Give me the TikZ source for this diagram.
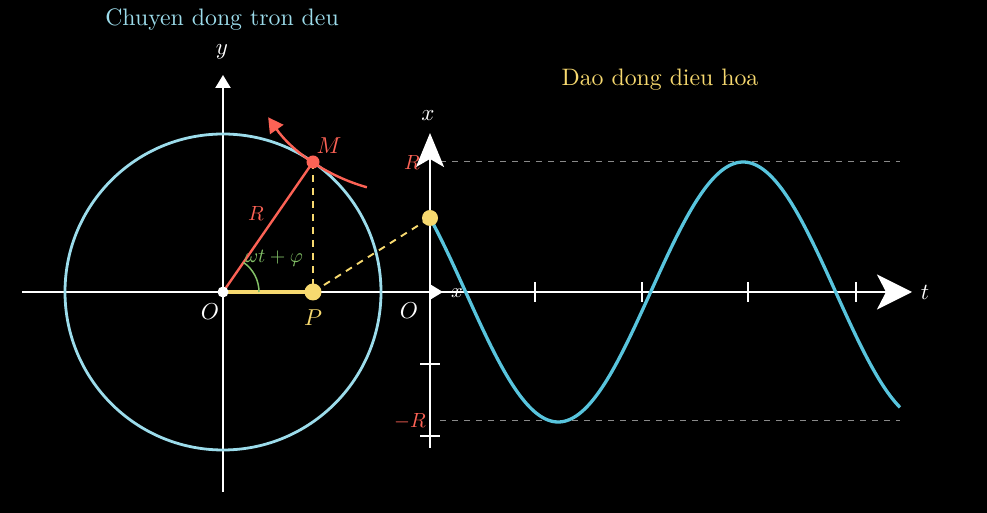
\documentclass[tikz,border=0pt]{standalone}
\usetikzlibrary{arrows.meta,calc}
\definecolor{circblue}{HTML}{9CDCEB}
\definecolor{curveblue}{HTML}{58C4DD}
\definecolor{mred}{HTML}{FC6255}
\definecolor{myellow}{HTML}{F7D96F}
\definecolor{mgreen}{HTML}{83C167}
\definecolor{dgray}{HTML}{8A8A8A}
\begin{document}
\begin{tikzpicture}[x=1pt,y=1pt,
  axisline/.style={white, line width=2.3pt},
  smalltip/.style={-{Triangle[length=13pt,width=15pt]}},
  bigtiph/.style={-{Stealth[length=35pt,width=35pt,inset=9pt]}},
  bigtipv/.style={-{Stealth[length=34pt,width=28pt,inset=8pt]}},
  tickline/.style={white, line width=2pt},
  guide/.style={dgray, line width=1pt, dash pattern=on 6pt off 6pt},
  ydash/.style={myellow, line width=1.9pt, dash pattern=on 7pt off 6pt},
  title/.style={scale=2.38},
  biglbl/.style={scale=2.3},
  midlbl/.style={scale=2.05},
  smalllbl/.style={scale=2.0}]
\fill[black] (0,0) rectangle (987,513);
\useasboundingbox (0,0) rectangle (987,513);

% key points
\coordinate (O1) at (223,221);
\coordinate (M) at (313,351);
\coordinate (P) at (313,221);
\coordinate (O2) at (430,221);
\coordinate (X0) at (430,295);
\coordinate (hxL) at (22,221);
\coordinate (hxR) at (443,221);
\coordinate (tR) at (912,221);
\coordinate (yB) at (223,21);
\coordinate (yT) at (223,438);
\coordinate (vB) at (430,65);
\coordinate (vT) at (430,380);

% titles
\node[title, text=circblue] (t1) at (222,493) {Chuyen dong tron deu};
\node[title, text=myellow] (t2) at (660,433) {Dao dong dieu hoa};

% guide lines
\draw[guide] (440,351) -- (900,351);
\draw[guide] (440,92) -- (900,92);

% axes
\draw[axisline, smalltip] (hxL) -- (hxR);
\draw[axisline, smalltip] (yB) -- (yT);
\draw[axisline, bigtiph] (O2) -- (tR);
\draw[axisline, bigtipv] (vB) -- (vT);

% ticks
\foreach \tx in {535,642,748,856} \draw[tickline] (\tx,211) -- (\tx,231);
\foreach \ty in {149,77} \draw[tickline] (420,\ty) -- (440,\ty);

% circle
\draw[circblue, line width=2.8pt] (O1) circle[radius=158pt];

% sine curve
\draw[curveblue, line width=3.3pt] plot[domain=430:900, samples=200, smooth] (\x, {221+130*cos((\x-430)/370*360+55.3)});

% radius and projections
\draw[mred, line width=2.4pt] (O1) -- (M);
\draw[ydash] (M) -- (P);
\draw[ydash] (P) -- (X0);
\draw[myellow, line width=4.2pt] (O1) -- (P);
\draw[mgreen, line width=1.5pt] ($(O1)+(36,0)$) arc[start angle=0, end angle=55.3, radius=36pt];

% velocity arrow
\draw[mred, line width=2.4pt, -{Triangle[length=15pt,width=16pt]}] (366.9,325.7) arc[start angle=254.3, end angle=215, radius=180pt];

% dots
\fill[myellow] (P) circle[radius=8.5pt];
\fill[myellow] (X0) circle[radius=8pt];
\fill[white] (O1) circle[radius=5.5pt];
\fill[mred] (M) circle[radius=6.5pt];

% labels
\node[biglbl, text=white] (ly) at (222,461) {$y$};
\node[biglbl, text=mred] (lM) at (329,367) {$M$};
\node[midlbl, text=mred] (lR) at (256,299) {$R$};
\node[smalllbl, text=mgreen] (lang) at (274,255) {$\omega t+\varphi$};
\node[biglbl, text=white] (lO1) at (210,201) {$O$};
\node[biglbl, text=myellow] (lP) at (313,195) {$P$};
\node[biglbl, text=white] (lx1) at (428,397) {$x$};
\node[midlbl, text=mred] (lRt) at (412,350) {$R$};
\node[midlbl, text=white] (lx2) at (457,220) {$x$};
\node[biglbl, text=white] (lO2) at (409,202) {$O$};
\node[biglbl, text=white] (lt) at (925,221) {$t$};
\node[midlbl, text=mred] (lmR) at (410,92) {$-R$};
\end{tikzpicture}
\end{document}
